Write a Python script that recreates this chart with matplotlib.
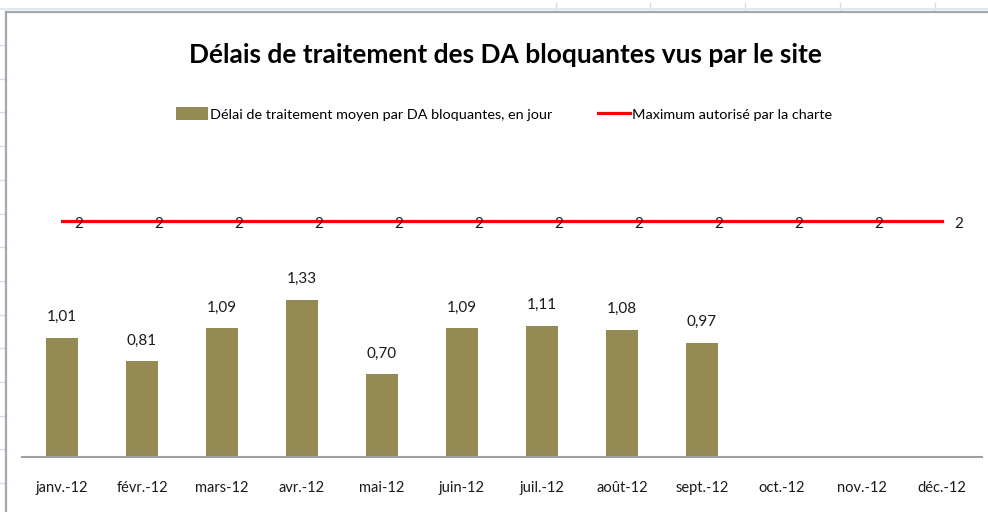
import matplotlib.pyplot as plt
from matplotlib.lines import Line2D
import numpy as np

# data
mois = ['janv.-12', 'févr.-12', 'mars-12', 'avr.-12', 'mai-12', 'juin-12',
        'juil.-12', 'août-12', 'sept.-12', 'oct.-12', 'nov.-12', 'déc.-12']
delai = [1.01, 0.81, 1.09, 1.33, 0.70, 1.09, 1.11, 1.08, 0.97]
maximum = [2, 2, 2, 2, 2, 2, 2, 2, 2, 2, 2, 2]

plt.rcParams['font.family'] = ['Lato', 'DejaVu Sans']

W, H = 988, 512
fig = plt.figure(figsize=(W/100, H/100), dpi=100)

# spreadsheet gridlines behind the chart object
grid_col = '#D5DCE8'
for y in np.arange(45, H, 33.7):
    fig.add_artist(Line2D([0, 6/W], [1-y/H, 1-y/H], color=grid_col, lw=1))
for x in [556, 650, 745, 840, 935]:
    fig.add_artist(Line2D([x/W, x/W], [1-3/H, 1-11/H], color=grid_col, lw=1))
fig.add_artist(Line2D([0, 1], [1-9/H, 1-9/H], color='#E3E8F0', lw=1.5))
# chart frame
fig.add_artist(Line2D([6/W, 6/W], [0, 1-12/H], color='#A6A6AE', lw=1.6))
fig.add_artist(Line2D([6/W, 1], [1-12/H, 1-12/H], color='#A6A6AE', lw=1.6))

ax = fig.add_axes([22/W, (H-457)/H, 960/W, 295/H])
x = np.arange(len(mois))

bars = ax.bar(x[:len(delai)], delai, width=0.4, color='#948A54',
              label='Délai de traitement moyen par DA bloquantes, en jour')
line, = ax.plot(x, maximum, color='#FF0000', lw=2.3,
                label='Maximum autorisé par la charte')

for xi, v in zip(x, delai):
    ax.annotate(f'{v:.2f}'.replace('.', ','), (xi, v), xytext=(0, 15),
                textcoords='offset points', ha='center', va='center',
                fontsize=11, color='#1a1a1a')
for xi, v in zip(x, maximum):
    ax.annotate(str(v), (xi, v), xytext=(12, -2), textcoords='offset points',
                ha='center', va='center', fontsize=11, color='#1a1a1a')

ax.set_xlim(-0.5, 11.5)
ax.set_ylim(0, 2.5)
ax.set_xticks(x)
ax.set_xticklabels(mois, fontsize=10.5, color='#1a1a1a')
ax.tick_params(axis='x', length=0, pad=17)
ax.set_yticks([])
for s in ['top', 'right', 'left']:
    ax.spines[s].set_visible(False)
ax.spines['bottom'].set_color('#A0A0A0')
ax.spines['bottom'].set_linewidth(1.5)

fig.text(505/W, 1-55/H, 'Délais de traitement des DA bloquantes vus par le site',
         ha='center', va='center', fontsize=19, fontweight='bold')

fig.legend(handles=[bars, line], loc='center', bbox_to_anchor=(504/W, 1-114/H),
           ncol=2, frameon=False, fontsize=10.4, handlelength=2.2, handleheight=1.0,
           handletextpad=0.15, columnspacing=3.2)

fig.savefig('out.png', dpi=100)
